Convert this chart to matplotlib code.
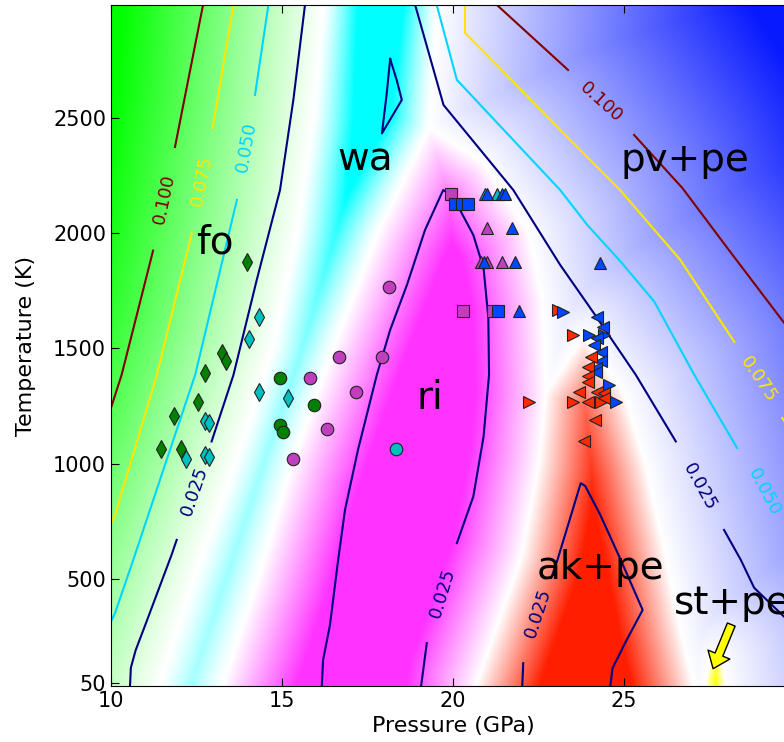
import numpy as np
import matplotlib
matplotlib.use('Agg')
import matplotlib.pyplot as plt
from matplotlib.path import Path
from matplotlib.colors import Normalize

# ---- phase boundaries: (pressure GPa, temperature K) ----
fo_wa_line = [(11.0, -500), (11.4, 50), (12.4, 500), (13.6, 1000), (14.7, 1500),
              (15.4, 2000), (15.9, 2500), (16.5, 3500)]
wa_line = [(13.1, -500), (13.3, 50), (14.3, 500), (15.3, 1000), (16.5, 1500),
           (17.8, 2000), (19.3, 2455), (19.8, 3500)]
ri_line = [(20.4, -500), (20.7, 50), (22.0, 600), (22.5, 1000), (22.7, 1300),
           (22.6, 1700), (22.2, 2000), (20.9, 2300), (19.3, 2455)]
ak_line = [(22.7, 1300), (23.8, 1550), (25.0, 1300), (25.6, 1000), (26.2, 600),
           (26.6, 300), (27.0, 50), (27.3, -500)]
st_line = [(27.35, -500), (27.38, 60), (27.5, 150), (27.65, 180), (27.85, 150),
           (27.95, 60), (27.95, -500)]

# ---- contour lines of the misfit field ----
c100_a = [(12.69, 2990), (11.87, 2374)]
c100_b = [(11.23, 1924), (10.31, 1385), (10.0, 1242), (9.9, 1200)]
c100_c = [(21.28, 2990), (23.36, 2708)]
c100_d = [(25.29, 2426), (26.70, 2196), (28.10, 1919), (29.68, 1610), (30.15, 1515)]

c075_a = [(13.58, 2990), (12.97, 2455)]
c075_b = [(12.36, 2000), (11.34, 1385), (10.12, 778), (9.91, 712)]
c075_c = [(20.35, 2990), (20.35, 2869), (23.13, 2448), (24.88, 2187),
          (26.64, 1884), (28.22, 1528)]
c075_d = [(29.62, 1198), (30.15, 1081)]

c050_a = [(14.60, 2990), (14.21, 2600)]
c050_b = [(13.68, 2144), (12.46, 1385), (11.43, 929), (10.65, 582),
          (10.12, 352), (9.95, 300)]
c050_c = [(19.52, 2990), (20.11, 2665), (23.13, 2187), (23.92, 2036),
          (24.90, 1876), (25.88, 1703), (27.05, 1385), (28.30, 1068)]

c025_a = [(15.67, 2990), (15.33, 2578), (14.94, 2187), (14.26, 1797),
          (13.58, 1385), (12.94, 1096)]
c025_b = [(11.92, 669), (11.77, 604), (11.04, 315), (10.72, 190), (10.58, 114),
          (10.56, 49), (10.55, 30)]
c025_c = [(18.89, 2990), (19.72, 2556), (21.76, 2187), (23.13, 1862),
          (24.15, 1645), (25.34, 1385), (26.51, 1096)]
c025_d = [(27.92, 712), (28.41, 582), (28.80, 461), (29.68, 335), (30.15, 300)]
c025_wa = [(18.16, 2756), (18.35, 2665), (18.50, 2578), (17.92, 2433),
           (18.06, 2607), (18.16, 2756)]
c025_ri_a = [(16.16, 30), (16.20, 148), (16.40, 300), (16.64, 582), (16.84, 799),
             (17.22, 1060), (17.77, 1385), (18.16, 1580), (18.65, 1775),
             (19.18, 2014), (19.71, 2187), (19.91, 2166), (20.15, 2115),
             (20.59, 1992), (20.89, 1848), (21.03, 1631), (21.05, 1385),
             (20.89, 1117), (20.59, 857), (20.11, 655)]
c025_ri_b = [(19.23, 221), (19.06, 30)]
c025_ak_a = [(22.02, 30), (22.05, 134)]
c025_ak_b = [(22.87, 504), (23.05, 582), (23.39, 748), (23.73, 915), (23.86, 903),
             (24.30, 778), (24.90, 582), (25.54, 365), (25.05, 228),
             (24.66, 112), (24.59, 30)]

levels = [0.025, 0.050, 0.075, 0.100]
level_lines = {
    0.100: [c100_a, c100_b, c100_c, c100_d],
    0.075: [c075_a, c075_b, c075_c, c075_d],
    0.050: [c050_a, c050_b, c050_c],
    0.025: [c025_a, c025_b, c025_c, c025_d, c025_wa, c025_ri_a, c025_ri_b,
            c025_ak_a, c025_ak_b],
}

# inline contour labels
label_level = [0.100, 0.100, 0.075, 0.075, 0.050, 0.050, 0.025, 0.025, 0.025, 0.025]
label_P = [11.55, 24.33, 12.66, 28.92, 13.95, 29.09, 12.43, 27.22, 19.68, 22.49]
label_T = [2148, 2569, 2227, 1363, 2374, 877, 882, 899, 439, 352]
label_rot = [78, -42, 79, -56, 80, -62, 71, -61, 73, 72]

# ---- experimental runs ----
gd_P = [13.97, 13.24, 13.35, 12.75, 12.55, 11.84, 11.46, 12.05]
gd_T = [1874, 1479, 1443, 1394, 1266, 1208, 1063, 1064]
cd_P = [14.34, 14.04, 12.75, 12.85, 12.19, 12.75, 12.85, 14.34, 15.17]
cd_T = [1638, 1541, 1185, 1178, 1019, 1036, 1030, 1312, 1284]
gc_P = [14.94, 15.94, 14.94, 15.04]
gc_T = [1371, 1255, 1168, 1136]
mc_P = [15.82, 16.31, 15.33, 18.14, 16.65, 17.93, 17.15]
mc_T = [1371, 1149, 1019, 1768, 1462, 1462, 1312]
cc_P = [18.32]
cc_T = [1063]
msq_P = [19.93, 20.30, 21.17]
msq_T = [2170, 1664, 1664]
bsq_P = [20.06, 20.26, 20.44, 21.30]
bsq_T = [2126, 2126, 2126, 1664]
cu_P = [20.94, 21.28]
cu_T = [2170, 2170]
mu_P = [21.00, 20.81, 20.99, 21.42]
mu_T = [2021, 1874, 1874, 1874]
bu_P = [21.00, 21.42, 21.52, 21.72, 20.91, 21.81, 21.93, 24.30]
bu_T = [2170, 2170, 2170, 2021, 1874, 1874, 1664, 1870]
rr_P = [23.07, 22.21, 23.49, 23.49, 24.32]
rr_T = [1667, 1266, 1558, 1266, 1266]
br_P = [23.20, 23.98, 24.41, 24.56, 24.76]
br_T = [1657, 1558, 1558, 1341, 1266]
bl_P = [24.22, 24.37, 24.22, 24.12, 24.32, 24.32, 24.17, 24.17]
bl_T = [1638, 1594, 1544, 1515, 1486, 1443, 1414, 1399]
rl_P = [24.03, 23.93, 23.93, 23.93, 23.68, 24.22, 24.41, 24.41, 23.93, 24.14, 23.83]
rl_T = [1464, 1417, 1378, 1356, 1312, 1312, 1305, 1284, 1266, 1190, 1096]

# phase names and where they are written
phase_names = ['wa', 'fo', 'ri', 'pv+pe', 'ak+pe']
phase_P = [17.43, 13.04, 19.33, 26.78, 24.30]
phase_T = [2318, 1958, 1285, 2318, 548]

P_MIN, P_MAX = 10, 30
T_MIN, T_MAX = 35, 2990
PX_GPA, PX_K = 34.2, 0.2305   # display pixels per unit, used for distances


def boundary_distance(P, T, lines):
    """Distance (display px) from each grid point to the nearest boundary."""
    X = (P - P_MIN) * PX_GPA
    Y = T * PX_K
    d = np.full(P.shape, np.inf)
    for line in lines:
        pts = np.asarray(line, float)
        xs = (pts[:, 0] - P_MIN) * PX_GPA
        ys = pts[:, 1] * PX_K
        for x0, y0, x1, y1 in zip(xs[:-1], ys[:-1], xs[1:], ys[1:]):
            dx, dy = x1 - x0, y1 - y0
            t = np.clip(((X - x0) * dx + (Y - y0) * dy) / (dx * dx + dy * dy), 0, 1)
            d = np.minimum(d, np.hypot(X - x0 - t * dx, Y - y0 - t * dy))
    return d


# build the stability map
nx, ny = 500, 500
P, T = np.meshgrid(np.linspace(P_MIN, P_MAX, nx), np.linspace(T_MIN, T_MAX, ny))
pts = np.column_stack([P.ravel(), T.ravel()])

fo_poly = [(-50, -500)] + fo_wa_line + [(-50, 3500)]
wa_poly = fo_wa_line + wa_line[::-1]
ri_poly = wa_line[:7] + ri_line[::-1]
ak_poly = [p for p in ri_line if p[1] <= 1300] + ak_line[1:]
st_poly = st_line

# the wadsleyite band sharpens towards high temperature
wa_scale = np.interp(T, [0, 3000], [70, 34])

# (polygon, colour, distance scale, exponent)
phases = [
    (fo_poly, (0.0, 1.0, 0.0), 200, 1.0),
    (wa_poly, (0.0, 1.0, 1.0), wa_scale, 1.3),
    (ri_poly, (1.0, 0.2, 1.0), 70, 1.0),
    (ak_poly, (1.0, 0.12, 0.0), 60, 1.0),
    (st_poly, (1.0, 1.0, 0.0), 10, 1.0),
]
pv_style = ((0.03, 0.1, 1.0), 310, 1.0)

dist = boundary_distance(P, T, [fo_wa_line, wa_line, ri_line, ak_line, st_line])

color = np.zeros(P.shape + (3,))
scale = np.full(P.shape, pv_style[1], float)
gamma = np.full(P.shape, pv_style[2], float)
color[:] = pv_style[0]
for poly, col, s, g in phases:
    inside = Path(poly).contains_points(pts).reshape(P.shape)
    color[inside] = col
    scale[inside] = np.broadcast_to(s, P.shape)[inside]
    gamma[inside] = g

alpha = np.clip(dist / scale, 0, 1) ** gamma
rgb = 1 - alpha[..., None] * (1 - color)

fig = plt.figure(figsize=(7.84, 7.42), dpi=100)
ax = fig.add_axes([0.1416, 0.0755, 0.8727, 0.9178])
ax.imshow(rgb, origin='lower', extent=(P_MIN, P_MAX, T_MIN, T_MAX),
          aspect='auto', interpolation='bilinear', zorder=0)

# contour lines coloured like a jet contour plot
norm = Normalize(vmin=levels[0], vmax=levels[-1])
for lev in levels:
    for seg in level_lines[lev]:
        seg = np.asarray(seg)
        ax.plot(seg[:, 0], seg[:, 1], color=plt.cm.jet(norm(lev)), lw=1.5, zorder=2)

for lev, p, t, r in zip(label_level, label_P, label_T, label_rot):
    ax.text(p, t, '%.3f' % lev, color=plt.cm.jet(norm(lev)), fontsize=13,
            rotation=r, ha='center', va='center', rotation_mode='anchor', zorder=3)

mk = dict(ms=9, mec='#222222', mew=0.8, ls='none', zorder=4)
ax.plot(gd_P, gd_T, 'd', color='g', **mk)
ax.plot(cd_P, cd_T, 'd', color='c', **mk)
ax.plot(gc_P, gc_T, 'o', color='g', **mk)
ax.plot(mc_P, mc_T, 'o', color='#bf3fbf', **mk)
ax.plot(cc_P, cc_T, 'o', color='c', **mk)
ax.plot(msq_P, msq_T, 's', color='#bf3fbf', **mk)
ax.plot(bsq_P, bsq_T, 's', color='#0047ff', **mk)
ax.plot(cu_P, cu_T, '^', color='c', **mk)
ax.plot(mu_P, mu_T, '^', color='#bf3fbf', **mk)
ax.plot(bu_P, bu_T, '^', color='#0047ff', **mk)
ax.plot(rr_P, rr_T, '>', color='#ff2a00', **mk)
ax.plot(br_P, br_T, '>', color='#0047ff', **mk)
ax.plot(bl_P, bl_T, '<', color='#0047ff', **mk)
ax.plot(rl_P, rl_T, '<', color='#ff2a00', **mk)

for name, p, t in zip(phase_names, phase_P, phase_T):
    ax.text(p, t, name, fontsize=28, ha='center', va='center', zorder=5)

ax.annotate('st+pe', xy=(27.6, 110), xytext=(26.46, 396), fontsize=28,
            ha='left', va='center', zorder=5,
            arrowprops=dict(facecolor='yellow', edgecolor='black', width=6,
                            headwidth=17, headlength=11, shrink=0.0))

ax.set_xlim(P_MIN, P_MAX)
ax.set_ylim(T_MIN, T_MAX)
ax.set_xticks([10, 15, 20, 25])
ax.set_yticks([50, 500, 1000, 1500, 2000, 2500])
ax.tick_params(direction='in', top=True, right=True, length=6, labelsize=15)
ax.set_xlabel('Pressure (GPa)', fontsize=16)
ax.set_ylabel('Temperature (K)', fontsize=16, labelpad=12)

fig.savefig('out.png', dpi=100)
